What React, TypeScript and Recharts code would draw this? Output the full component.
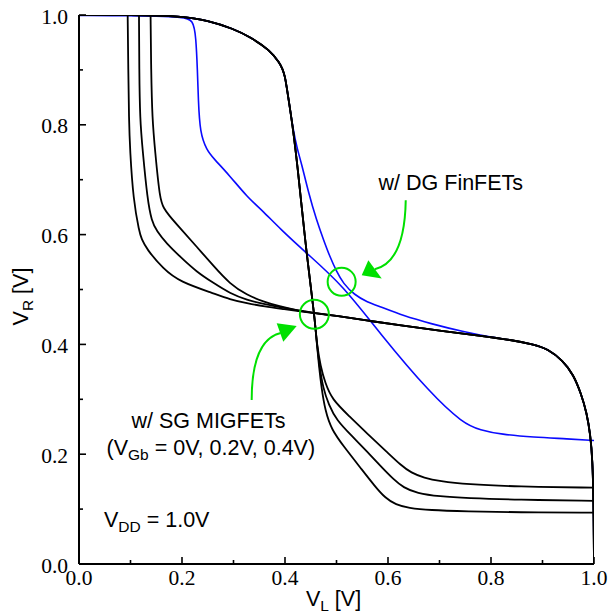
import { LineChart, Line, XAxis, YAxis, ReferenceDot } from "recharts"

const SERIF = "'Liberation Serif', 'Times New Roman', serif"
const SANS = "'Liberation Sans', Arial, sans-serif"
const GREEN = "#00e000"
const BLUE = "#0a0aff"

const vTicks = [0, 0.1, 0.2, 0.3, 0.4, 0.5, 0.6, 0.7, 0.8, 0.9, 1.0]

// DG FinFET butterfly (blue)
const dgAX = [0, 0.1, 0.15, 0.2, 0.222, 0.227, 0.23, 0.2317, 0.235, 0.248, 0.261, 0.293, 0.326, 0.358, 0.39, 0.442, 0.513, 0.584, 0.682, 0.746, 0.779, 0.82, 0.882, 0.95, 1.0]
const dgAY = [0.999, 0.999, 0.998, 0.996, 0.992, 0.96, 0.9, 0.845, 0.785, 0.754, 0.739, 0.707, 0.669, 0.642, 0.611, 0.566, 0.507, 0.42, 0.311, 0.256, 0.244, 0.236, 0.231, 0.228, 0.225]
const dgBX = [0, 0.1, 0.2, 0.25, 0.3, 0.332, 0.371, 0.39, 0.395, 0.4, 0.403, 0.408, 0.416, 0.424, 0.432, 0.446, 0.461, 0.475, 0.487, 0.5, 0.513, 0.535, 0.56, 0.584, 0.63, 0.682, 0.746, 0.8, 0.84, 0.882]
const dgBY = [1.0, 1.0, 0.998, 0.99, 0.975, 0.96, 0.936, 0.912, 0.902, 0.888, 0.87, 0.84, 0.79, 0.755, 0.73, 0.675, 0.627, 0.59, 0.56, 0.533, 0.511, 0.49, 0.477, 0.469, 0.452, 0.438, 0.423, 0.413, 0.408, 0.4]

// SG MIGFET, V_R vs V_L: shared upper part, then one tail per V_Gb
const sgTopX = [0, 0.1, 0.2, 0.25, 0.3, 0.332, 0.371, 0.39, 0.395, 0.4, 0.403, 0.408, 0.416, 0.425, 0.433, 0.442, 0.452, 0.458, 0.462]
const sgTopY = [1.0, 1.0, 0.998, 0.99, 0.975, 0.96, 0.936, 0.912, 0.902, 0.888, 0.87, 0.84, 0.79, 0.718, 0.645, 0.566, 0.49, 0.443, 0.4]
const sgTail0X = [0.466, 0.471, 0.478, 0.49, 0.515, 0.546, 0.575, 0.595, 0.615, 0.64, 0.68, 0.753, 0.85, 1.0]
const sgTail0Y = [0.36, 0.32, 0.28, 0.245, 0.213, 0.176, 0.141, 0.12, 0.108, 0.102, 0.098, 0.096, 0.094, 0.0935]
const sgTail1X = [0.467, 0.474, 0.485, 0.5, 0.53, 0.559, 0.59, 0.61, 0.63, 0.656, 0.7, 0.753, 0.85, 1.0]
const sgTail1Y = [0.36, 0.32, 0.29, 0.262, 0.233, 0.205, 0.174, 0.155, 0.139, 0.129, 0.123, 0.12, 0.117, 0.115]
const sgTail2X = [0.469, 0.478, 0.491, 0.525, 0.559, 0.598, 0.625, 0.645, 0.67, 0.7, 0.753, 0.85, 1.0]
const sgTail2Y = [0.36, 0.33, 0.3, 0.269, 0.238, 0.204, 0.18, 0.166, 0.157, 0.151, 0.145, 0.141, 0.139]

// SG MIGFET, V_L vs V_R: one head per V_Gb, then a shared lower part
const sgHead0X = [0.0945, 0.0957, 0.097, 0.099, 0.1055, 0.117, 0.1215, 0.131, 0.164, 0.196, 0.261, 0.293, 0.326, 0.36, 0.4, 0.43]
const sgHead0Y = [1.0, 0.9, 0.81, 0.754, 0.663, 0.605, 0.592, 0.574, 0.537, 0.514, 0.493, 0.482, 0.475, 0.469, 0.464, 0.46]
const sgHead1X = [0.1165, 0.117, 0.1184, 0.1235, 0.133, 0.141, 0.151, 0.17, 0.196, 0.2285, 0.261, 0.293, 0.326, 0.36, 0.4, 0.43]
const sgHead1Y = [1.0, 0.9, 0.81, 0.754, 0.663, 0.625, 0.606, 0.584, 0.56, 0.532, 0.512, 0.493, 0.481, 0.473, 0.466, 0.461]
const sgHead2X = [0.139, 0.14, 0.1423, 0.1476, 0.157, 0.165, 0.1735, 0.196, 0.2285, 0.261, 0.293, 0.326, 0.358, 0.39, 0.42, 0.44]
const sgHead2Y = [1.0, 0.9, 0.81, 0.754, 0.663, 0.648, 0.636, 0.612, 0.578, 0.543, 0.51, 0.49, 0.478, 0.469, 0.463, 0.46]
const sgLowX = [0.458, 0.5, 0.562, 0.623, 0.7, 0.779, 0.84, 0.882, 0.91, 0.94, 0.96, 0.975, 0.986, 0.993, 0.997, 0.999, 1.0]
const sgLowY = [0.457, 0.452, 0.443, 0.435, 0.425, 0.416, 0.408, 0.4, 0.392, 0.37, 0.345, 0.31, 0.275, 0.235, 0.19, 0.12, 0.0]

const pts = (xs: number[], ys: number[]) => xs.map((x, i) => ({ x, y: ys[i] }))

const dgA = pts(dgAX, dgAY)
const dgB = pts([...dgBX, ...sgLowX.slice(8)], [...dgBY, ...sgLowY.slice(8)])
const sgR = [
  pts([...sgTopX, ...sgTail0X], [...sgTopY, ...sgTail0Y]),
  pts([...sgTopX, ...sgTail1X], [...sgTopY, ...sgTail1Y]),
  pts([...sgTopX, ...sgTail2X], [...sgTopY, ...sgTail2Y]),
]
const sgL = [
  pts([...sgHead0X, ...sgLowX], [...sgHead0Y, ...sgLowY]),
  pts([...sgHead1X, ...sgLowX], [...sgHead1Y, ...sgLowY]),
  pts([...sgHead2X, ...sgLowX], [...sgHead2Y, ...sgLowY]),
]

const isMajor = (v: number) => Math.round(v * 10) % 2 === 0

const BottomTick = ({ x, y, payload }: any) => (
  <g>
    <line x1={x} x2={x} y1={y} y2={y - (isMajor(payload.value) ? 7 : 4)} stroke="#000" strokeWidth={1.6} />
    {isMajor(payload.value) && (
      <text x={x} y={y + 21} textAnchor="middle" fontFamily={SERIF} fontSize={21.5} fill="#000">
        {payload.value.toFixed(1)}
      </text>
    )}
  </g>
)
const TopTick = ({ x, y, payload }: any) => (
  <line x1={x} x2={x} y1={y} y2={y + (isMajor(payload.value) ? 7 : 4)} stroke="#000" strokeWidth={1.6} />
)
const LeftTick = ({ x, y, payload }: any) => (
  <g>
    <line x1={x} x2={x + (isMajor(payload.value) ? 7 : 4)} y1={y} y2={y} stroke="#000" strokeWidth={1.6} />
    {isMajor(payload.value) && (
      <text x={x - 11} y={y + 8.5} textAnchor="end" fontFamily={SERIF} fontSize={21.5} fill="#000">
        {payload.value.toFixed(1)}
      </text>
    )}
  </g>
)
const RightTick = ({ x, y, payload }: any) => (
  <line x1={x} x2={x - (isMajor(payload.value) ? 7 : 4)} y1={y} y2={y} stroke="#000" strokeWidth={1.6} />
)

const XTitle = ({ viewBox }: any) => (
  <text x={viewBox.x + viewBox.width / 2 - 3} y={viewBox.y + 42} textAnchor="middle" fontFamily={SANS} fontSize={21.5} fill="#000">
    V<tspan fontSize={15.5} dy={5}>L</tspan><tspan dy={-5}> [V]</tspan>
  </text>
)
const YTitle = ({ viewBox }: any) => (
  <text
    transform={`translate(${viewBox.x + 9},${viewBox.y + viewBox.height / 2 + 7}) rotate(-90)`}
    textAnchor="middle" fontFamily={SANS} fontSize={21.5} fill="#000"
  >
    V<tspan fontSize={15.5} dy={5}>R</tspan><tspan dy={-5}> [V]</tspan>
  </text>
)

const DgArrow = ({ cx, cy }: any) => (
  <g>
    <path d={`M${cx + 44},${cy - 75} Q${cx + 43},${cy - 13} ${cx + 13},${cy - 6}`} fill="none" stroke={GREEN} strokeWidth={2} />
    <polygon points={`${cx},${cy} ${cx + 6.6},${cy - 15} ${cx + 20},${cy + 3.3}`} fill={GREEN} />
  </g>
)
const SgArrow = ({ cx, cy }: any) => (
  <g>
    <path d={`M${cx - 45},${cy + 74} Q${cx - 45},${cy + 14} ${cx - 16},${cy + 7}`} fill="none" stroke={GREEN} strokeWidth={2} />
    <polygon points={`${cx},${cy} ${cx - 20},${cy - 2.7} ${cx - 13.4},${cy + 15.7}`} fill={GREEN} />
  </g>
)

const textAt = (content: any, anchor: "start" | "middle") => ({ cx, cy }: any) => (
  <text x={cx} y={cy} textAnchor={anchor} fontFamily={SANS} fontSize={21.5} fill="#000">
    {content}
  </text>
)

export default function App() {
  return (
    <div style={{ position: "fixed", left: 0, top: 0, width: 609, height: 614, background: "#fff" }}>
      <LineChart width={609} height={614} margin={{ top: 15, right: 15, bottom: 0, left: 19 }}>
        <XAxis
          xAxisId={0} dataKey="x" type="number" domain={[0, 1]} ticks={vTicks} interval={0}
          height={50} tickSize={0} tickMargin={0} tickLine={false} tick={<BottomTick />}
          axisLine={{ stroke: "#000", strokeWidth: 2 }} allowDataOverflow
          label={{ content: XTitle }}
        />
        <XAxis
          xAxisId="top" orientation="top" dataKey="x" type="number" domain={[0, 1]} ticks={vTicks} interval={0}
          height={0} tickSize={0} tickMargin={0} tickLine={false} tick={<TopTick />}
          axisLine={{ stroke: "#000", strokeWidth: 2 }} allowDataOverflow
        />
        <YAxis
          yAxisId={0} type="number" domain={[0, 1]} ticks={vTicks} interval={0}
          width={60} tickSize={0} tickMargin={0} tickLine={false} tick={<LeftTick />}
          axisLine={{ stroke: "#000", strokeWidth: 2 }} allowDataOverflow
          label={{ content: YTitle }}
        />
        <YAxis
          yAxisId="right" orientation="right" type="number" domain={[0, 1]} ticks={vTicks} interval={0}
          width={0} tickSize={0} tickMargin={0} tickLine={false} tick={<RightTick />}
          axisLine={{ stroke: "#000", strokeWidth: 2 }} allowDataOverflow
        />

        <Line data={dgB} dataKey="y" type="basis" stroke={BLUE} strokeWidth={1.6} dot={false} activeDot={false} isAnimationActive={false} />
        <Line data={dgA} dataKey="y" type="basis" stroke={BLUE} strokeWidth={1.6} dot={false} activeDot={false} isAnimationActive={false} />
        {sgR.map((d, i) => (
          <Line key={"r" + i} data={d} dataKey="y" type="basis" stroke="#000" strokeWidth={1.8} dot={false} activeDot={false} isAnimationActive={false} />
        ))}
        {sgL.map((d, i) => (
          <Line key={"l" + i} data={d} dataKey="y" type="basis" stroke="#000" strokeWidth={1.8} dot={false} activeDot={false} isAnimationActive={false} />
        ))}

        <ReferenceDot x={0.51} y={0.514} r={14} fill="none" stroke={GREEN} strokeWidth={2} />
        <ReferenceDot x={0.457} y={0.455} r={14.5} fill="none" stroke={GREEN} strokeWidth={2} />
        <ReferenceDot x={0.549} y={0.526} shape={DgArrow} />
        <ReferenceDot x={0.4227} y={0.4335} shape={SgArrow} />
        <ReferenceDot x={0.722} y={0.681} shape={textAt("w/ DG FinFETs", "middle")} />
        <ReferenceDot x={0.2515} y={0.2486} shape={textAt("w/ SG MIGFETs", "middle")} />
        <ReferenceDot
          x={0.256} y={0.1985}
          shape={textAt(<>(V<tspan fontSize={15.5} dy={5}>Gb</tspan><tspan dy={-5}> = 0V, 0.2V, 0.4V)</tspan></>, "middle")}
        />
        <ReferenceDot
          x={0.0485} y={0.0668}
          shape={textAt(<>V<tspan fontSize={15.5} dy={5}>DD</tspan><tspan dy={-5}> = 1.0V</tspan></>, "start")}
        />
      </LineChart>
    </div>
  )
}
